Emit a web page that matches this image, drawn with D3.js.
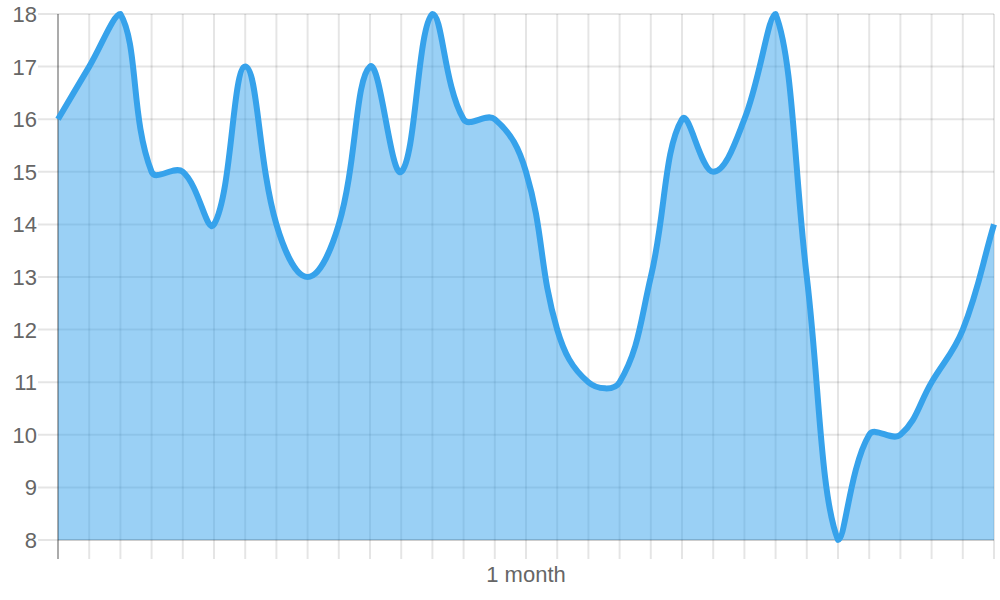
<!DOCTYPE html>
<html>
<head>
<meta charset="utf-8">
<script src="https://cdn.jsdelivr.net/npm/d3@7"></script>
<style>
  html, body { margin: 0; padding: 0; background: #fff; }
  svg { display: block; }
</style>
</head>
<body>
<svg id="chart" width="1000" height="600"></svg>
<script>
// ---- data ----
const days = d3.range(1, 32);               // 31 daily points
const values = [16,17,18,15,15,14,17,14,13,14,17,15,18,16,16,15,12,11,11,13,16,15,16,18,13,8,10,10,11,12,14];
const xTickLabels = days.map((d, i) => i === 15 ? "1 month" : "");
const yTicks = [8,9,10,11,12,13,14,15,16,17,18];

(function () {
// ---- layout ----
const pL = 58, pR = 994, pT = 14, pB = 540;
const svg = d3.select("#chart");
const font = "'Liberation Sans', Arial, Helvetica, sans-serif";

const x = d3.scaleLinear().domain([0, days.length - 1]).range([pL, pR]);
const y = d3.scaleLinear().domain([8, 18]).range([pB, pT]);

// grid
const grid = svg.append("g");
grid.selectAll("line.h").data(yTicks).join("line")
  .attr("x1", pL - 20).attr("x2", pR)
  .attr("y1", d => y(d)).attr("y2", d => y(d))
  .attr("stroke", "rgba(0,0,0,0.1)").attr("stroke-width", 2);
grid.selectAll("line.v").data(days.map((d, i) => i)).join("line")
  .attr("x1", i => x(i)).attr("x2", i => x(i))
  .attr("y1", pT).attr("y2", pB + 19)
  .attr("stroke", "rgba(0,0,0,0.1)").attr("stroke-width", 2);

// ---- Chart.js-like spline (tension 0.4, capped control points) ----
const pts = values.map((v, i) => ({ x: x(i), y: y(v) }));
const t = 0.4;
const cap = (v, lo, hi) => Math.max(Math.min(v, hi), lo);
pts.forEach((p, i) => {
  const prev = pts[Math.max(i - 1, 0)], next = pts[Math.min(i + 1, pts.length - 1)];
  const d01 = Math.hypot(p.x - prev.x, p.y - prev.y);
  const d12 = Math.hypot(next.x - p.x, next.y - p.y);
  let s01 = d01 / (d01 + d12), s12 = d12 / (d01 + d12);
  s01 = isNaN(s01) ? 0 : s01; s12 = isNaN(s12) ? 0 : s12;
  const fa = t * s01, fb = t * s12;
  p.c1x = cap(p.x - fa * (next.x - prev.x), pL, pR);
  p.c1y = cap(p.y - fa * (next.y - prev.y), pT, pB);
  p.c2x = cap(p.x + fb * (next.x - prev.x), pL, pR);
  p.c2y = cap(p.y + fb * (next.y - prev.y), pT, pB);
});
function curvePath(ctx) {
  ctx.moveTo(pts[0].x, pts[0].y);
  for (let i = 1; i < pts.length; i++) {
    const a = pts[i - 1], b = pts[i];
    ctx.bezierCurveTo(a.c2x, a.c2y, b.c1x, b.c1y, b.x, b.y);
  }
  return ctx;
}
const linePath = curvePath(d3.path()).toString();
const areaP = curvePath(d3.path());
areaP.lineTo(pts[pts.length - 1].x, pB);
areaP.lineTo(pts[0].x, pB);
areaP.closePath();

svg.append("path").attr("d", areaP.toString())
  .attr("fill", "rgba(54,162,235,0.5)");

// axes lines
svg.append("line").attr("x1", pL).attr("x2", pR).attr("y1", pB).attr("y2", pB)
  .attr("stroke", "rgba(0,0,0,0.1)").attr("stroke-width", 2);
svg.append("line").attr("x1", pL).attr("x2", pL).attr("y1", pT).attr("y2", pB + 19)
  .attr("stroke", "rgba(0,0,0,0.25)").attr("stroke-width", 2);

svg.append("path").attr("d", linePath)
  .attr("fill", "none").attr("stroke", "rgb(54,162,235)")
  .attr("stroke-width", 6).attr("stroke-linejoin", "round");

// y labels
svg.append("g").selectAll("text").data(yTicks).join("text")
  .attr("x", 37).attr("y", d => y(d)).attr("dy", "0.36em")
  .attr("text-anchor", "end").attr("fill", "#666")
  .attr("font-family", font).attr("font-size", 22)
  .text(d => d);

// x labels
svg.append("g").selectAll("text").data(days.map((d, i) => i)).join("text")
  .attr("x", i => x(i)).attr("y", 582)
  .attr("text-anchor", "middle").attr("fill", "#666")
  .attr("font-family", font).attr("font-size", 22)
  .text(i => xTickLabels[i]);
})();
</script>
</body>
</html>
